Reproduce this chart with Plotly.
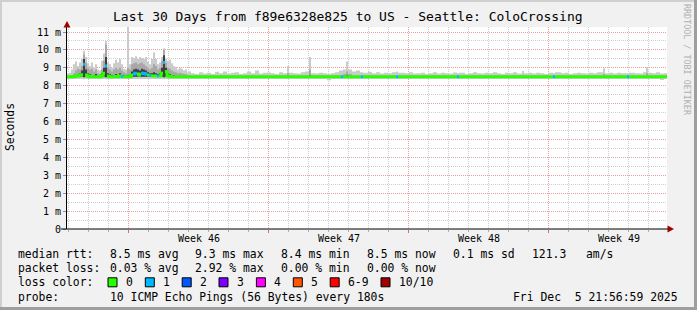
import plotly.graph_objects as go
from datetime import datetime, timedelta

# ---------------- data ----------------
START = datetime(2025, 11, 5, 21, 56, 59)
END = datetime(2025, 12, 5, 21, 56, 59)

hours = [
    0, 2.4, 4.8, 7.2, 9.6, 12, 14.4, 16.8, 19.2, 21.6,
    24, 26.4, 28.8, 31.2, 33.6, 36, 38.4, 40.8, 43.2, 45.6,
    48, 50.4, 52.8, 55.2, 57.6, 60, 62.4, 64.8, 67.2, 69.6,
    72, 74.4, 76.8, 79.2, 81.6, 84, 86.4, 88.8, 91.2, 93.6,
    96, 98.4, 100.8, 103.2, 105.6, 108, 110.4, 112.8, 115.2, 117.6,
    120, 122.4, 124.8, 127.2, 129.6, 132, 134.4, 136.8, 139.2, 141.6,
    144, 146.4,
    148.8, 153.6, 158.4, 163.2, 168, 172.8, 177.6, 182.4, 187.2, 192,
    196.8, 201.6, 206.4, 211.2, 216, 220.8, 225.6, 230.4, 235.2, 240,
    244.8, 249.6, 254.4, 259.2, 264, 266.4, 271.2, 276, 280.8, 285.6,
    290.4, 292.8, 297.6, 302.4, 307.2, 312, 316.8, 321.6, 326.4, 328.8,
    331.2, 334.8, 337.2, 342, 346.8, 351.6, 352.8, 355.2, 361.2, 366,
    370.8, 375.6, 380.4, 385.2, 390, 394.8, 397.2, 405.6, 410.4, 415.2,
    420, 424.8, 429.6, 434.4, 439.2, 444, 448.8, 453.6, 458.4, 463.2,
    468, 470.4, 477.6, 482.4, 487.2, 492, 496.8, 501.6, 506.4, 511.2,
    516, 520.8, 525.6, 530.4, 535.2, 540, 546, 548.4, 553.2, 558,
    562.8, 567.6, 572.4, 577.2, 583.2, 585.6, 592.8, 597.6, 602.4, 607.2,
    612, 616.8, 621.6, 626.4, 631.2, 636, 643.2, 645.6, 650.4, 655.2,
    660, 664.8, 672, 674.4, 681.6, 686.4, 691.2, 694.8, 697.2, 702,
    706.8, 711.6, 716.4,
]

smoke_min = [
    8.38, 8.38, 8.38, 8.38, 8.38, 8.38, 8.38, 8.38, 8.36, 8.38,
    8.38, 8.38, 8.38, 8.38, 8.38, 8.38, 8.38, 8.38, 8.38, 8.36,
    8.38, 8.38, 8.38, 8.38, 8.38, 8.38, 8.38, 8.38, 8.38, 8.38,
    8.38, 8.38, 8.38, 8.38, 8.38, 8.38, 8.38, 8.38, 8.38, 8.38,
    8.38, 8.38, 8.38, 8.38, 8.38, 8.38, 8.38, 8.38, 8.36, 8.38,
    8.38, 8.38, 8.38, 8.38, 8.38, 8.38, 8.38, 8.38, 8.38, 8.38,
    8.38, 8.38,
    8.38, 8.38, 8.38, 8.38, 8.38, 8.38, 8.38, 8.38, 8.38, 8.38,
    8.38, 8.38, 8.38, 8.38, 8.38, 8.38, 8.38, 8.38, 8.38, 8.38,
    8.38, 8.38, 8.38, 8.38, 8.38, 8.38, 8.38, 8.38, 8.38, 8.38,
    8.38, 8.38, 8.38, 8.38, 8.38, 8.30, 8.38, 8.38, 8.38, 8.38,
    8.38, 8.38, 8.38, 8.38, 8.38, 8.38, 8.38, 8.38, 8.38, 8.38,
    8.38, 8.38, 8.38, 8.38, 8.38, 8.38, 8.38, 8.38, 8.38, 8.38,
    8.38, 8.38, 8.38, 8.38, 8.38, 8.38, 8.38, 8.38, 8.38, 8.38,
    8.38, 8.38, 8.38, 8.38, 8.38, 8.38, 8.38, 8.38, 8.38, 8.38,
    8.38, 8.38, 8.38, 8.38, 8.38, 8.38, 8.38, 8.38, 8.38, 8.38,
    8.38, 8.38, 8.38, 8.38, 8.38, 8.38, 8.38, 8.38, 8.38, 8.38,
    8.38, 8.38, 8.38, 8.38, 8.38, 8.38, 8.38, 8.38, 8.38, 8.38,
    8.38, 8.38, 8.38, 8.38, 8.38, 8.38, 8.38, 8.38, 8.38, 8.38,
    8.38, 8.32, 8.38,
]

smoke_max = [
    8.68, 8.72, 8.90, 9.20, 9.35, 9.10, 9.30, 9.50, 9.95, 9.60,
    9.25, 9.10, 9.30, 9.00, 9.20, 8.90, 8.85, 9.40, 9.80, 10.50,
    9.30, 9.20, 9.00, 9.25, 9.45, 9.30, 9.50, 9.20, 8.95, 8.90,
    11.40, 9.20, 9.60, 9.55, 9.65, 9.50, 9.60, 9.55, 9.50, 9.60,
    9.35, 9.20, 9.50, 9.85, 9.50, 9.20, 9.30, 9.60, 10.10, 9.50,
    9.40, 9.45, 9.25, 9.10, 9.05, 8.90, 9.00, 8.95, 8.85, 8.90,
    8.75, 8.80,
    8.70, 8.65, 8.75, 8.68, 8.72, 8.66, 8.78, 8.70, 8.80, 8.68,
    8.72, 8.75, 8.66, 8.70, 8.80, 8.70, 8.85, 8.68, 8.72, 8.74,
    8.70, 8.66, 8.75, 8.70, 9.10, 8.72, 8.70, 8.68, 8.75, 8.80,
    9.60, 8.70, 8.68, 8.72, 8.70, 8.66, 8.70, 8.75, 8.85, 8.85,
    8.90, 9.35, 8.90, 8.80, 8.85, 8.75, 8.75, 8.72, 8.78, 8.70,
    8.75, 8.68, 8.72, 8.70, 8.75, 8.80, 8.72, 8.70, 8.75, 8.68,
    8.70, 8.72, 8.66, 8.70, 8.75, 8.68, 8.72, 8.70, 8.68, 8.74,
    8.70, 8.72, 8.66, 8.70, 8.75, 8.70, 8.68, 8.72, 8.70, 8.75,
    8.70, 8.66, 8.72, 8.70, 8.75, 8.68, 8.82, 8.70, 8.72, 8.68,
    8.72, 8.70, 8.66, 8.72, 8.70, 8.75, 8.70, 8.72, 8.66, 8.70,
    8.72, 8.70, 8.68, 8.72, 8.70, 8.75, 8.97, 8.70, 8.72, 8.68,
    8.72, 8.70, 8.70, 8.72, 8.70, 8.68, 8.75, 9.05, 8.72, 8.70,
    8.75, 8.68, 8.70,
]

smoke_mid = [
    8.55, 8.56, 8.60, 8.70, 8.85, 8.95, 8.90, 9.10, 9.75, 9.30,
    9.00, 8.90, 8.95, 8.80, 8.90, 8.70, 8.65, 8.90, 9.40, 10.30,
    9.00, 8.90, 8.80, 8.90, 9.00, 8.90, 9.00, 8.85, 8.75, 8.70,
    9.00, 8.90, 9.20, 9.25, 9.30, 9.20, 9.25, 9.30, 9.20, 9.10,
    9.00, 8.90, 9.00, 9.20, 9.10, 8.90, 9.00, 9.40, 10.00, 9.30,
    9.00, 8.95, 8.85, 8.80, 8.75, 8.70, 8.72, 8.70, 8.65, 8.65,
    8.60, 8.60,
    8.56, 8.56, 8.56, 8.56, 8.56, 8.56, 8.56, 8.56, 8.56, 8.56,
    8.56, 8.56, 8.56, 8.56, 8.56, 8.56, 8.56, 8.56, 8.56, 8.56,
    8.56, 8.56, 8.56, 8.56, 8.70, 8.56, 8.56, 8.56, 8.56, 8.56,
    8.90, 8.56, 8.56, 8.56, 8.56, 8.56, 8.56, 8.56, 8.56, 8.56,
    8.65, 8.80, 8.65, 8.56, 8.56, 8.56, 8.56, 8.56, 8.56, 8.56,
    8.56, 8.56, 8.56, 8.56, 8.56, 8.56, 8.56, 8.56, 8.56, 8.56,
    8.56, 8.56, 8.56, 8.56, 8.56, 8.56, 8.56, 8.56, 8.56, 8.56,
    8.56, 8.56, 8.56, 8.56, 8.56, 8.56, 8.56, 8.56, 8.56, 8.56,
    8.56, 8.56, 8.56, 8.56, 8.56, 8.56, 8.62, 8.56, 8.56, 8.56,
    8.56, 8.56, 8.56, 8.56, 8.56, 8.56, 8.56, 8.56, 8.56, 8.56,
    8.56, 8.56, 8.56, 8.56, 8.56, 8.56, 8.65, 8.56, 8.56, 8.56,
    8.56, 8.56, 8.56, 8.56, 8.56, 8.56, 8.56, 8.70, 8.56, 8.56,
    8.56, 8.56, 8.56,
]

smoke_dark = [
    8.50, 8.50, 8.52, 8.55, 8.60, 8.62, 8.70, 8.85, 9.50, 8.90,
    8.70, 8.65, 8.60, 8.60, 8.65, 8.55, 8.55, 8.70, 9.00, 9.60,
    8.70, 8.65, 8.60, 8.60, 8.65, 8.60, 8.70, 8.60, 8.60, 8.55,
    8.60, 8.60, 8.80, 8.90, 8.95, 8.90, 8.85, 8.95, 8.90, 8.85,
    8.75, 8.70, 8.70, 8.75, 8.70, 8.65, 8.70, 9.00, 9.70, 9.00,
    8.70, 8.65, 8.60, 8.60, 8.55, 8.55, 8.55, 8.55, 8.52, 8.52,
    8.50, 8.50,
    8.50, 8.50, 8.50, 8.50, 8.50, 8.50, 8.50, 8.50, 8.50, 8.50,
    8.50, 8.50, 8.50, 8.50, 8.50, 8.50, 8.50, 8.50, 8.50, 8.50,
    8.50, 8.50, 8.50, 8.50, 8.50, 8.50, 8.50, 8.50, 8.50, 8.50,
    8.60, 8.50, 8.50, 8.50, 8.50, 8.50, 8.50, 8.50, 8.50, 8.50,
    8.50, 8.60, 8.50, 8.50, 8.50, 8.50, 8.50, 8.50, 8.50, 8.50,
    8.50, 8.50, 8.50, 8.50, 8.50, 8.50, 8.50, 8.50, 8.50, 8.50,
    8.50, 8.50, 8.50, 8.50, 8.50, 8.50, 8.50, 8.50, 8.50, 8.50,
    8.50, 8.50, 8.50, 8.50, 8.50, 8.50, 8.50, 8.50, 8.50, 8.50,
    8.50, 8.50, 8.50, 8.50, 8.50, 8.50, 8.50, 8.50, 8.50, 8.50,
    8.50, 8.50, 8.50, 8.50, 8.50, 8.50, 8.50, 8.50, 8.50, 8.50,
    8.50, 8.50, 8.50, 8.50, 8.50, 8.50, 8.50, 8.50, 8.50, 8.50,
    8.50, 8.50, 8.50, 8.50, 8.50, 8.50, 8.50, 8.50, 8.50, 8.50,
    8.50, 8.50, 8.50,
]

smoke_base = [
    8.50, 8.50, 8.50, 8.50, 8.50, 8.50, 8.50, 8.50, 8.48, 8.50,
    8.50, 8.50, 8.50, 8.50, 8.50, 8.50, 8.50, 8.50, 8.50, 8.48,
    8.50, 8.50, 8.50, 8.50, 8.50, 8.50, 8.50, 8.50, 8.50, 8.50,
    8.50, 8.50, 8.50, 8.50, 8.50, 8.50, 8.50, 8.50, 8.50, 8.50,
    8.50, 8.50, 8.50, 8.50, 8.50, 8.50, 8.50, 8.50, 8.48, 8.50,
    8.50, 8.50, 8.50, 8.50, 8.50, 8.50, 8.50, 8.50, 8.50, 8.50,
    8.50, 8.50,
    8.50, 8.50, 8.50, 8.50, 8.50, 8.50, 8.50, 8.50, 8.50, 8.50,
    8.50, 8.50, 8.50, 8.50, 8.50, 8.50, 8.50, 8.50, 8.50, 8.50,
    8.50, 8.50, 8.50, 8.50, 8.50, 8.50, 8.50, 8.50, 8.50, 8.50,
    8.50, 8.50, 8.50, 8.50, 8.50, 8.50, 8.50, 8.50, 8.50, 8.50,
    8.50, 8.50, 8.50, 8.50, 8.50, 8.50, 8.50, 8.50, 8.50, 8.50,
    8.50, 8.50, 8.50, 8.50, 8.50, 8.50, 8.50, 8.50, 8.50, 8.50,
    8.50, 8.50, 8.50, 8.50, 8.50, 8.50, 8.50, 8.50, 8.50, 8.50,
    8.50, 8.50, 8.50, 8.50, 8.50, 8.50, 8.50, 8.50, 8.50, 8.50,
    8.50, 8.50, 8.50, 8.50, 8.50, 8.50, 8.50, 8.50, 8.50, 8.50,
    8.50, 8.50, 8.50, 8.50, 8.50, 8.50, 8.50, 8.50, 8.50, 8.50,
    8.50, 8.50, 8.50, 8.50, 8.50, 8.50, 8.50, 8.50, 8.50, 8.50,
    8.50, 8.50, 8.50, 8.50, 8.50, 8.50, 8.50, 8.50, 8.50, 8.50,
    8.50, 8.50, 8.50,
]

median = [
    8.50, 8.50, 8.50, 8.52, 8.55, 8.55, 8.58, 8.62, 9.20, 8.60,
    8.55, 8.50, 8.52, 8.50, 8.50, 8.50, 8.50, 8.55, 8.70, 9.10,
    8.55, 8.50, 8.50, 8.50, 8.52, 8.50, 8.55, 8.52, 8.50, 8.50,
    8.50, 8.50, 8.60, 8.65, 8.70, 8.65, 8.60, 8.70, 8.68, 8.65,
    8.60, 8.58, 8.55, 8.55, 8.55, 8.55, 8.55, 8.70, 9.30, 8.80,
    8.55, 8.52, 8.50, 8.50, 8.50, 8.50, 8.50, 8.50, 8.50, 8.50,
    8.50, 8.50,
    8.50, 8.50, 8.50, 8.50, 8.50, 8.50, 8.50, 8.50, 8.50, 8.50,
    8.50, 8.50, 8.50, 8.50, 8.50, 8.50, 8.50, 8.50, 8.50, 8.50,
    8.50, 8.50, 8.50, 8.50, 8.50, 8.50, 8.50, 8.50, 8.50, 8.50,
    8.50, 8.50, 8.50, 8.50, 8.50, 8.50, 8.50, 8.50, 8.50, 8.50,
    8.50, 8.50, 8.50, 8.50, 8.50, 8.50, 8.50, 8.50, 8.50, 8.50,
    8.50, 8.50, 8.50, 8.50, 8.50, 8.50, 8.50, 8.50, 8.50, 8.50,
    8.50, 8.50, 8.50, 8.50, 8.50, 8.50, 8.50, 8.50, 8.50, 8.50,
    8.50, 8.50, 8.50, 8.50, 8.50, 8.50, 8.50, 8.50, 8.50, 8.50,
    8.50, 8.50, 8.50, 8.50, 8.50, 8.50, 8.50, 8.50, 8.50, 8.50,
    8.50, 8.50, 8.50, 8.50, 8.50, 8.50, 8.50, 8.50, 8.50, 8.50,
    8.50, 8.50, 8.50, 8.50, 8.50, 8.50, 8.50, 8.50, 8.50, 8.50,
    8.50, 8.50, 8.50, 8.50, 8.50, 8.50, 8.50, 8.50, 8.50, 8.50,
    8.50, 8.50, 8.50,
]

loss = [
    0, 0, 0, 0, 0, 0, 0, 0, 1, 0,
    0, 0, 0, 0, 0, 0, 0, 0, 0, 1,
    0, 0, 0, 0, 0, 0, 0, 1, 0, 0,
    0, 0, 0, 1, 1, 0, 0, 1, 1, 1,
    0, 1, 0, 0, 0, 1, 0, 0, 1, 0,
    0, 0, 0, 0, 0, 0, 0, 0, 0, 0,
    0, 0,
    0, 0, 0, 0, 0, 0, 0, 0, 0, 0,
    0, 0, 0, 0, 0, 0, 0, 0, 0, 0,
    0, 0, 0, 0, 0, 0, 0, 0, 0, 0,
    0, 0, 0, 0, 0, 0, 0, 0, 0, 1,
    0, 0, 0, 0, 0, 0, 1, 0, 0, 0,
    0, 0, 0, 0, 0, 1, 0, 0, 0, 0,
    0, 0, 0, 0, 0, 0, 0, 0, 0, 0,
    1, 0, 0, 0, 0, 0, 0, 0, 0, 0,
    0, 0, 0, 0, 0, 0, 0, 0, 0, 0,
    0, 0, 0, 0, 1, 0, 0, 0, 0, 0,
    0, 0, 0, 0, 0, 0, 0, 0, 0, 0,
    0, 0, 1, 0, 0, 0, 0, 0, 0, 0,
    0, 0, 0,
]

week_starts = ["2025-11-09", "2025-11-16", "2025-11-23", "2025-11-30"]
week_mids = ["2025-11-12 12:00", "2025-11-19 12:00", "2025-11-26 12:00", "2025-12-03 12:00"]
week_labels = ["Week 46", "Week 47", "Week 48", "Week 49"]

y_tick_values = [0, 1, 2, 3, 4, 5, 6, 7, 8, 9, 10, 11]
y_tick_labels = ["0", "1 m", "2 m", "3 m", "4 m", "5 m", "6 m", "7 m", "8 m", "9 m", "10 m", "11 m"]

rtt_stats = ["8.5 ms avg", "9.3 ms max", "8.4 ms min", "8.5 ms now", "0.1 ms sd", "121.3", "am/s"]
loss_stats = ["0.03 % avg", "2.92 % max", "0.00 % min", "0.00 % now"]
loss_labels = ["0", "1", "2", "3", "4", "5", "6-9", "10/10"]
loss_colors = ["#26ff00", "#00b8ff", "#0059ff", "#7e00ff", "#ff00ff", "#ff5500", "#ff0000", "#a10000"]
probe_text = "10 ICMP Echo Pings (56 Bytes) every 180s"
stamp_text = "Fri Dec  5 21:56:59 2025"
title_text = "Last 30 Days from f89e6328e825 to US - Seattle: ColoCrossing"

# ---------------- geometry ----------------
FIG_W, FIG_H = 697, 310
L, R, T, B = 67, 30, 27, 81
W = FIG_W - L - R
H = FIG_H - T - B
MONO = "DejaVu Sans Mono"


def px(x):
    return (x - L) / W


def py(y):
    return (T + H - y) / H


times = [START + timedelta(hours=h) for h in hours] + [END]


def ext(v):
    return list(v) + [v[-1]]


fig = go.Figure()


def band(lo, hi, color):
    fig.add_trace(go.Scatter(x=times, y=ext(lo), mode="lines",
                             line=dict(width=0, shape="hv"),
                             hoverinfo="skip", showlegend=False))
    fig.add_trace(go.Scatter(x=times, y=ext(hi), mode="lines",
                             line=dict(width=0, shape="hv"),
                             fill="tonexty", fillcolor=color,
                             hoverinfo="skip", showlegend=False))


band(smoke_min, smoke_max, "#cbcbcb")
band(smoke_base, smoke_mid, "#a8a8a8")
band(smoke_base, smoke_dark, "#404040")

for k, col in enumerate(loss_colors):
    xs, ys = [], []
    for i, m in enumerate(median):
        if loss[i] == k:
            xs += [times[i], times[i + 1]]
            ys += [m, m]
        elif xs and xs[-1] is not None:
            xs.append(None)
            ys.append(None)
    if any(v is not None for v in ys):
        fig.add_trace(go.Scatter(x=xs, y=ys, mode="lines",
                                 line=dict(color=col, width=3, simplify=False),
                                 connectgaps=False, hoverinfo="skip",
                                 showlegend=False))

shapes = []
# frame
shapes.append(dict(type="rect", xref="paper", yref="paper", x0=px(0), x1=px(697), y0=py(0), y1=py(2),
                   fillcolor="#cfcfcf", line=dict(width=0), layer="above"))
shapes.append(dict(type="rect", xref="paper", yref="paper", x0=px(0), x1=px(2), y0=py(0), y1=py(310),
                   fillcolor="#cfcfcf", line=dict(width=0), layer="above"))
shapes.append(dict(type="rect", xref="paper", yref="paper", x0=px(0), x1=px(697), y0=py(307), y1=py(310),
                   fillcolor="#9e9e9e", line=dict(width=0), layer="above"))
shapes.append(dict(type="rect", xref="paper", yref="paper", x0=px(694), x1=px(697), y0=py(0), y1=py(310),
                   fillcolor="#9e9e9e", line=dict(width=0), layer="above"))
# axis arrows
shapes.append(dict(type="path", xref="paper", yref="paper",
                   path=f"M {px(67)},{py(21)} L {px(63.5)},{py(27.5)} L {px(70.5)},{py(27.5)} Z",
                   fillcolor="#a00000", line=dict(width=0), layer="above"))
shapes.append(dict(type="path", xref="paper", yref="paper",
                   path=f"M {px(674)},{py(229)} L {px(667.5)},{py(225.5)} L {px(667.5)},{py(232.5)} Z",
                   fillcolor="#a00000", line=dict(width=0), layer="above"))
shapes.append(dict(type="line", xref="paper", yref="paper", x0=px(61), x1=px(668), y0=py(229), y1=py(229),
                   line=dict(color="#000000", width=1), layer="above"))

annotations = []


def txt(s, x, y, size=11.4, anchor="left", color="#000000", angle=0, xref="paper"):
    annotations.append(dict(text=s, x=x, y=y, xref=xref, yref="paper", showarrow=False,
                            xanchor=anchor, yanchor="middle", textangle=angle,
                            font=dict(family=MONO, size=size, color=color)))


txt(title_text, px(348), py(17), size=13, anchor="center")
txt("Seconds", px(10), py(127), size=11.4, anchor="center", angle=-90)
txt("RRDTOOL / TOBI OETIKER", px(687), py(60), size=8.4, anchor="center", color="#b0b0b0", angle=90)

for lab, mid in zip(week_labels, week_mids):
    txt(lab, mid, py(238), size=10, anchor="center", xref="x")

row_y = [254, 268.3, 282.3, 296.5]
col_x = [108, 193.3, 279.1, 365.3, 451.1, 529.8, 584.4]

txt("median rtt:", px(16.4), py(row_y[0]))
for s, x in zip(rtt_stats, col_x):
    txt(s, px(x), py(row_y[0]))

txt("packet loss:", px(16.4), py(row_y[1]))
for s, x in zip(loss_stats, col_x):
    txt(s, px(x), py(row_y[1]))

txt("loss color:", px(16.4), py(row_y[2]))
box_x = [108, 145.3, 182.2, 219, 256.4, 293.3, 330.2, 381]
for lab, col, bx in zip(loss_labels, loss_colors, box_x):
    shapes.append(dict(type="rect", xref="paper", yref="paper",
                       x0=px(bx), x1=px(bx + 9), y0=py(row_y[2] - 4.5), y1=py(row_y[2] + 4.5),
                       fillcolor=col, line=dict(color="#000000", width=1), layer="above"))
    txt(lab, px(bx + 15.6), py(row_y[2]))

txt("probe:", px(16.4), py(row_y[3]))
txt(probe_text, px(108), py(row_y[3]))
txt(stamp_text, px(680), py(row_y[3]), anchor="right")

GRID = "#cdcdcd"
MGRID = "#eba0a0"
DASH = "1px,1px"

fig.update_layout(
    width=FIG_W, height=FIG_H,
    margin=dict(l=L, r=R, t=T, b=B, pad=0),
    paper_bgcolor="#f1f1f1", plot_bgcolor="#ffffff",
    showlegend=False,
    xaxis=dict(type="date", range=[START, END], tickmode="array", tickvals=week_starts,
               showticklabels=False, showgrid=True, gridcolor=MGRID, griddash=DASH, gridwidth=1,
               ticks="outside", ticklen=3, tickcolor="#e07070",
               minor=dict(dtick=86400000, tick0="2025-11-06", showgrid=True, gridcolor=GRID,
                          griddash=DASH, ticks="outside", ticklen=2, tickcolor="#b0b0b0"),
               showline=False, zeroline=False, fixedrange=True),
    yaxis=dict(range=[0, 11.28], tickmode="array", tickvals=y_tick_values, ticktext=y_tick_labels,
               showgrid=True, gridcolor=MGRID, griddash=DASH, gridwidth=1,
               minor=dict(dtick=0.5, tick0=0, showgrid=True, gridcolor=GRID, griddash=DASH),
               ticks="outside", ticklen=3, tickcolor="#909090",
               tickfont=dict(family=MONO, size=10, color="#000000"),
               showline=True, linecolor="#000000", linewidth=1, zeroline=False, fixedrange=True),
    shapes=shapes,
    annotations=annotations,
)

fig.write_html("out.html")
